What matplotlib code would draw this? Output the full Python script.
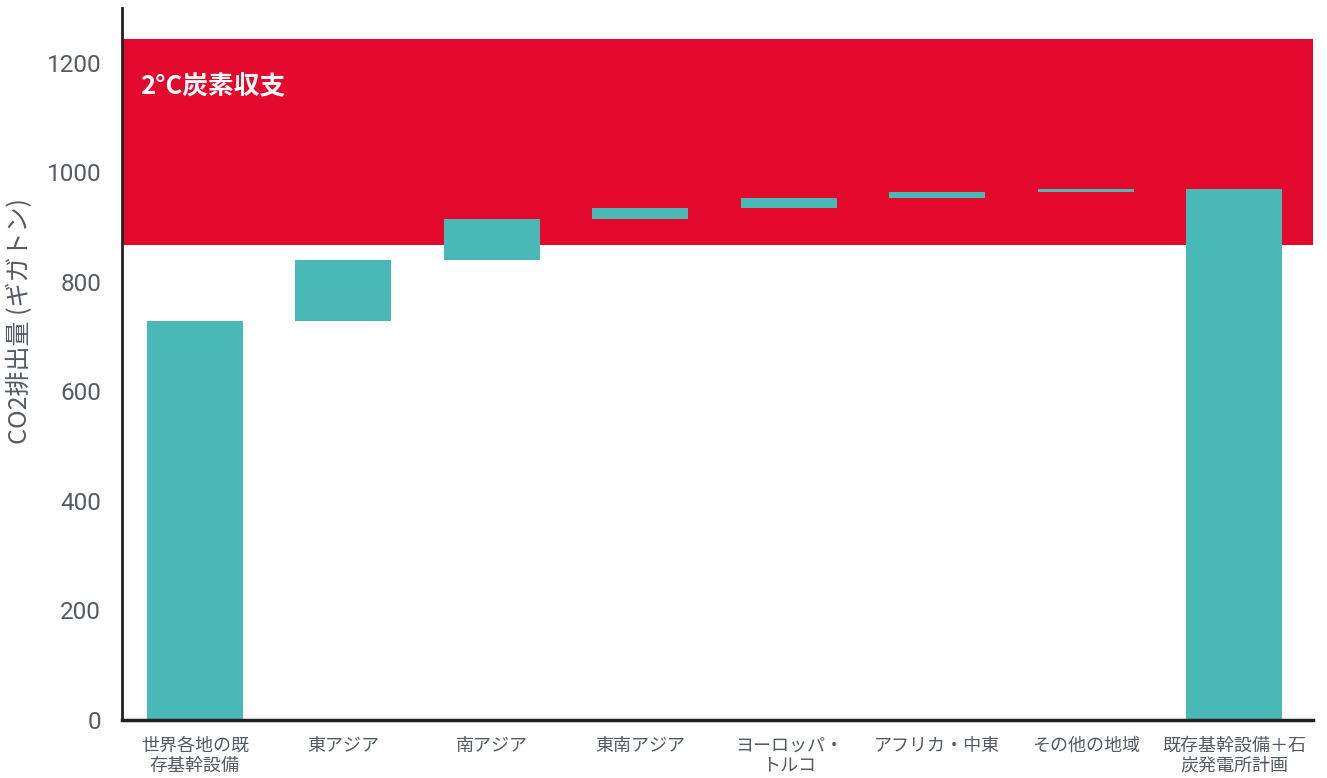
import matplotlib
matplotlib.use("Agg")
import matplotlib.pyplot as plt
import numpy as np

plt.rcParams['font.family'] = ['Noto Sans CJK JP', 'DejaVu Sans']

# data
labels = ["世界各地の既\n存基幹設備", "東アジア", "南アジア", "東南アジア",
          "ヨーロッパ・\nトルコ", "アフリカ・中東", "その他の地域",
          "既存基幹設備＋石\n炭発電所計画"]
steps = [728, 112, 75, 19, 20, 10, 5]
budget_low = 867
budget_high = 1244
band_label = "2°C炭素収支"
yticks = [0, 200, 400, 600, 800, 1000, 1200]

red = "#E2092D"
teal = "#48B9B6"
grey = "#555B63"

cum = np.cumsum(steps)
bottoms = [0] + list(cum[:-1]) + [0]
heights = list(steps) + [cum[-1]]

fig = plt.figure(figsize=(13.27, 7.78), dpi=100)
ax = fig.add_axes([122/1327, 1-720/778, (1313-122)/1327, (720-8)/778])

ax.axhspan(budget_low, budget_high, color=red, zorder=1, lw=0)
x = np.arange(len(labels))
ax.bar(x, heights, bottom=bottoms, width=0.646, color=teal, zorder=2)

ax.text(-0.37, 1157, band_label, color="white", fontsize=18.5, fontweight="bold",
        va="center", ha="left", zorder=3)

ax.set_xlim(-0.49, 7.53)
ax.set_ylim(0, 1300)
ax.set_xticks(x)
ax.set_xticklabels(labels, fontsize=13, color=grey, linespacing=1.15)
ax.set_yticks(yticks)
ax.set_yticklabels([str(v) for v in yticks], fontsize=17.5, color=grey,
                   family=['Roboto', 'DejaVu Sans'])
ax.tick_params(axis='both', length=0)
ax.tick_params(axis='x', pad=12)
ax.tick_params(axis='y', pad=15)
ax.set_ylabel("CO2排出量 (ギガトン)", fontsize=18, color=grey)
ax.yaxis.set_label_coords(-0.0747, 0.560)

for s in ["top", "right"]:
    ax.spines[s].set_visible(False)
ax.spines["left"].set_color("#222222")
ax.spines["left"].set_linewidth(2)
ax.spines["bottom"].set_color("#222222")
ax.spines["bottom"].set_linewidth(2.5)

fig.savefig("out.png", dpi=100)
